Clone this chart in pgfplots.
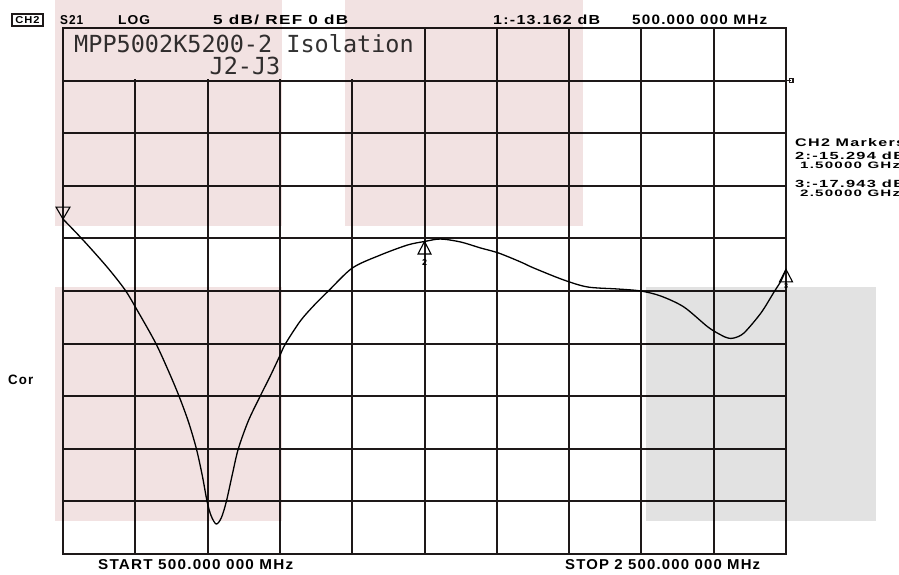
\documentclass[border=0pt]{standalone}
\usepackage{pgfplots}
\pgfplotsset{compat=1.18}
\usepackage{fontspec}
\usepackage{graphicx}
\newfontfamily\hp[LetterSpace=8]{Liberation Sans}
\newfontfamily\titlefont{DejaVu Sans Mono}
\definecolor{gridc}{RGB}{30,25,25}
\definecolor{pinkc}{RGB}{242,226,226}
\definecolor{greyc}{RGB}{226,226,226}
\newcommand{\fit}[3]{\resizebox{#1pt}{#2pt}{\hp\bfseries #3}}
\pgfdeclareplotmark{mkup}{\pgfpathmoveto{\pgfpointorigin}\pgfpathlineto{\pgfpoint{-6.5pt}{-12.5pt}}\pgfpathlineto{\pgfpoint{6.5pt}{-12.5pt}}\pgfpathclose\pgfusepathqstroke}
\pgfdeclareplotmark{mkdown}{\pgfpathmoveto{\pgfpointorigin}\pgfpathlineto{\pgfpoint{-7pt}{12pt}}\pgfpathlineto{\pgfpoint{7pt}{12pt}}\pgfpathclose\pgfusepathqstroke}
\pgfplotstableread{
f db
0.5000 -13.162
0.5554 -15.15
0.6219 -17.72
0.6717 -19.90
0.7050 -21.81
0.7548 -24.85
0.7881 -27.32
0.8186 -29.79
0.8463 -32.36
0.8684 -34.92
0.8850 -37.49
0.8989 -40.06
0.9100 -41.39
0.9238 -42.15
0.9377 -41.58
0.9515 -40.06
0.9681 -37.49
0.9848 -35.02
1.0125 -32.36
1.0457 -29.98
1.0734 -28.08
1.0983 -26.27
1.1150 -25.04
1.1565 -22.85
1.1953 -21.33
1.2341 -20.00
1.3006 -17.81
1.3781 -16.58
1.4529 -15.63
1.5000 -15.294
1.5443 -15.06
1.5997 -15.34
1.6551 -15.91
1.7050 -16.39
1.7659 -17.24
1.8019 -17.81
1.8850 -18.95
1.9515 -19.62
2.0346 -19.81
2.0983 -20.00
2.1537 -20.48
2.2175 -21.52
2.2839 -23.42
2.3199 -24.18
2.3393 -24.47
2.3560 -24.47
2.3837 -23.99
2.4307 -22.09
2.4668 -20.10
2.4860 -19.05
2.5000 -17.943
}\trace
\begin{document}
\begin{tikzpicture}[x=1pt,y=1pt]
\useasboundingbox (0,0) rectangle (899,575);
\begin{axis}[at={(63pt,21pt)}, anchor=south west, scale only axis,
  width=723pt, height=526pt,
  xmin=0.5, xmax=2.5, ymin=-45, ymax=5,
  xtick={0.5,0.7,0.9,1.1,1.3,1.5,1.7,1.9,2.1,2.3,2.5},
  ytick={-45,-40,-35,-30,-25,-20,-15,-10,-5,0,5},
  xticklabels={}, yticklabels={}, major tick length=0pt,
  grid=major, major grid style={gridc, line width=2pt},
  axis line style={gridc, line width=2pt},
  clip=false]
\addplot[black, line width=1.3pt, smooth, tension=0.5] table[x=f, y=db] {\trace};
\addplot[only marks, mark=mkdown, mark options={black, line width=1.1pt}] coordinates {(0.5,-13.162)};
\addplot[only marks, mark=mkup, mark options={black, line width=1.1pt}] coordinates {(1.5,-15.294) (2.5,-17.943)};
\addplot[gridc, line width=1.4pt, mark=square, mark indices={2}, mark size=1.8pt] coordinates {(2.5,0) (2.514,0)};
\node[inner sep=0, yshift=-21pt] at (axis cs:1.5,-15.294) {\fit{5}{6}{2}};
\node[inner sep=0, yshift=-17pt, xshift=0pt] at (axis cs:2.5,-17.943) {\fit{4}{5}{3}};
\end{axis}
% title box
\fill[white] (64.2,495.6) rectangle (423.2,545.8);
\node[anchor=base, inner sep=0, text=black!80] at (244,522) {\titlefont\fontsize{23.5}{24}\selectfont MPP5002K5200-2 Isolation};
\node[anchor=base, inner sep=0, text=black!80] at (245,500) {\titlefont\fontsize{23.5}{24}\selectfont J2-J3};
% header
\draw[line width=1.5pt, gridc] (12,549) rectangle (43,561);
\node[inner sep=0] at (27.5,555) {\fit{24}{7}{CH2}};
\node[anchor=base west, inner sep=0] at (60,550) {\fit{23}{9}{S21}};
\node[anchor=base west, inner sep=0] at (118,550) {\fit{32}{9}{LOG}};
\node[anchor=base west, inner sep=0] at (213,550) {\fit{135}{9.5}{5 dB/ REF 0 dB}};
\node[anchor=base west, inner sep=0] at (493,550) {\fit{107}{9.5}{1:-13.162 dB}};
\node[anchor=base west, inner sep=0] at (632,550) {\fit{135}{9.5}{500.000 000 MHz}};
% right marker block
\node[anchor=base west, inner sep=0] at (795,428) {\fit{110}{8}{CH2 Markers}};
\node[anchor=base west, inner sep=0] at (795,415.5) {\fit{110}{7.5}{2:-15.294 dB}};
\node[anchor=base west, inner sep=0] at (800,406.5) {\fit{100}{6.5}{1.50000 GHz}};
\node[anchor=base west, inner sep=0] at (795,387.5) {\fit{110}{7.5}{3:-17.943 dB}};
\node[anchor=base west, inner sep=0] at (800,378.5) {\fit{100}{6.5}{2.50000 GHz}};
% left / bottom
\node[anchor=base west, inner sep=0] at (8,190) {\fit{25}{9.5}{Cor}};
\node[anchor=base west, inner sep=0] at (98,5) {\fit{195}{10}{START 500.000 000 MHz}};
\node[anchor=base west, inner sep=0] at (565,5) {\fit{195}{10}{STOP 2 500.000 000 MHz}};
% translucent overlays
\begin{scope}[blend mode=multiply]
\fill[pinkc] (55,349) rectangle (282,575);
\fill[pinkc] (55,54) rectangle (282,288);
\fill[pinkc] (345,349) rectangle (583,575);
\fill[greyc] (646,54) rectangle (876,288);
\end{scope}
\end{tikzpicture}
\end{document}
